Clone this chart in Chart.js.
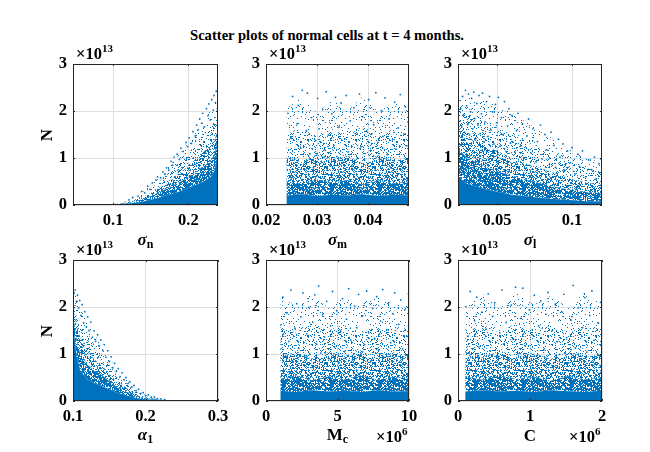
<!DOCTYPE html>
<html>
<head>
<meta charset="utf-8">
<script src="https://cdn.jsdelivr.net/npm/chart.js@4.4.1/dist/chart.umd.min.js"></script>
<style>
  body { margin: 0; width: 650px; height: 452px; position: relative; overflow: hidden; background: #fff;
         font-family: 'Liberation Serif', 'Times New Roman', serif; }
  canvas { position: absolute; }
  .lbl { position: absolute; font-weight: bold; color: #000; white-space: nowrap; line-height: 1; }
  .c { transform: translate(-50%, -50%); }
  .l { transform: translateY(-50%); }
  .ax { font-size: 17px; }
  .ax i { font-weight: bold; }
  .ax sub { font-size: 12px; font-style: normal; vertical-align: -3px; }
  .mul { font-size: 16.5px; }
  .mul sup { font-size: 11px; vertical-align: 7px; }
  .n { font-size: 17px; transform: translate(-50%, -50%) rotate(-90deg); }
</style>
</head>
<body>
<div class="lbl c" style="left:327px;top:35px;font-size:14.6px;">Scatter plots of normal cells at t = 4 months.</div>

<script>
// y axis (units of 1e13)
const yTicks = [0, 1, 2, 3];
const yLabels = ['0', '1', '2', '3'];

// density bands read off the cloud: core = solid, then dense / mid / sparse / fringe reach at each x
// --- sigma_n ---
const snTicks = [0.1, 0.2];
const snLabels = ['0.1', '0.2'];
const snEnvX   = [0.0467, 0.10, 0.11, 0.12, 0.13, 0.14, 0.15, 0.16, 0.17, 0.18, 0.19, 0.20, 0.21, 0.22, 0.23, 0.235, 0.2393];
const snCore   = [0.02, 0.02, 0.02, 0.03, 0.05, 0.075, 0.11, 0.15, 0.2, 0.25, 0.3, 0.36, 0.43, 0.5, 0.6, 0.75, 1.2];
const snDense  = [0.02, 0.02, 0.02, 0.05, 0.08, 0.13, 0.19, 0.26, 0.34, 0.42, 0.5, 0.6, 0.7, 0.82, 0.95, 1.1, 1.4];
const snMid    = [0.02, 0.02, 0.03, 0.07, 0.12, 0.17, 0.26, 0.36, 0.46, 0.58, 0.7, 0.82, 0.97, 1.13, 1.28, 1.4, 1.6];
const snSparse = [0.02, 0.02, 0.04, 0.09, 0.16, 0.23, 0.35, 0.48, 0.62, 0.78, 0.94, 1.1, 1.3, 1.52, 1.72, 1.83, 1.98];
const snFringe = [0.02, 0.02, 0.05, 0.11, 0.19, 0.28, 0.42, 0.58, 0.75, 0.93, 1.12, 1.32, 1.56, 1.81, 2.05, 2.18, 2.28];
const snPts = [[0.121,0.11],[0.126,0.16],[0.133,0.19],[0.138,0.29],[0.142,0.26],[0.146,0.4],[0.149,0.33],[0.152,0.47],
  [0.157,0.53],[0.159,0.6],[0.163,0.58],[0.166,0.7],[0.169,0.66],[0.171,0.79],[0.174,0.74],[0.177,0.93],[0.179,0.85],
  [0.181,1.02],[0.185,1.08],[0.188,0.97],[0.19,1.21],[0.193,1.14],[0.197,1.33],[0.199,1.24],[0.201,1.43],[0.204,1.31],
  [0.206,1.56],[0.209,1.47],[0.211,1.7],[0.213,1.6],[0.215,1.83],[0.218,1.74],[0.219,1.95],[0.221,1.66],[0.224,2.05],
  [0.226,1.9],[0.227,2.15],[0.229,1.81],[0.231,2.24],[0.233,2.02],[0.234,2.33],[0.236,2.18],[0.237,2.42],[0.239,2.3],
  [0.2385,2.05]];

// --- sigma_m ---
const smTicks = [0.02, 0.03, 0.04];
const smLabels = ['0.02', '0.03', '0.04'];
const smEnvX   = [0.024, 0.027, 0.030, 0.033, 0.036, 0.039, 0.042, 0.045, 0.048];
const smCore   = [0.2, 0.23, 0.19, 0.22, 0.2, 0.23, 0.19, 0.22, 0.2];
const smDense  = [0.5, 0.44, 0.55, 0.47, 0.53, 0.43, 0.52, 0.46, 0.5];
const smMid    = [1.0, 0.9, 1.08, 0.94, 1.05, 0.88, 1.06, 0.92, 1.02];
const smSparse = [1.5, 1.65, 1.42, 1.6, 1.48, 1.68, 1.44, 1.62, 1.5];
const smFringe = [2.05, 2.3, 1.95, 2.25, 2.0, 2.32, 1.98, 2.2, 2.1];
const smPts = [[0.0243,1.95],[0.0249,1.42],[0.0252,2.31],[0.0256,0.98],[0.0261,1.73],[0.0263,2.12],[0.0268,1.21],
  [0.0271,2.44],[0.0274,0.87],[0.0279,1.58],[0.0281,2.38],[0.0286,1.09],[0.0289,1.86],[0.0293,0.79],[0.0297,1.37],
  [0.0301,2.27],[0.0304,1.62],[0.0308,0.93],[0.0311,2.03],[0.0315,1.18],[0.0318,2.41],[0.0322,1.49],[0.0325,0.84],
  [0.0329,1.94],[0.0333,1.27],[0.0336,2.29],[0.0339,1.03],[0.0343,1.66],[0.0347,2.17],[0.0351,0.91],[0.0354,1.41],
  [0.0357,2.33],[0.0361,1.13],[0.0365,1.79],[0.0368,0.82],[0.0372,2.07],[0.0375,1.52],[0.0379,1.01],[0.0383,2.36],
  [0.0386,1.24],[0.0389,1.88],[0.0393,0.95],[0.0397,1.57],[0.0401,2.24],[0.0404,1.16],[0.0408,0.88],[0.0411,1.71],
  [0.0415,2.39],[0.0419,1.33],[0.0422,0.97],[0.0426,2.01],[0.0429,1.46],[0.0433,2.28],[0.0437,1.07],[0.0441,1.83],
  [0.0444,0.8],[0.0448,1.39],[0.0452,2.19],[0.0455,1.19],[0.0459,1.64],[0.0463,2.35],[0.0466,0.92],[0.047,1.51],
  [0.0473,2.09],[0.0476,1.26],[0.0478,1.77]];

// --- sigma_l ---
const slTicks = [0.05, 0.1];
const slLabels = ['0.05', '0.1'];
const slEnvX   = [0.024, 0.03, 0.04, 0.05, 0.06, 0.07, 0.08, 0.09, 0.10, 0.11, 0.12];
const slCore   = [0.6, 0.45, 0.35, 0.28, 0.22, 0.18, 0.15, 0.12, 0.1, 0.08, 0.07];
const slDense  = [1.2, 1.0, 0.85, 0.72, 0.62, 0.53, 0.45, 0.38, 0.32, 0.27, 0.25];
const slMid    = [1.6, 1.45, 1.3, 1.15, 1.0, 0.88, 0.77, 0.66, 0.55, 0.47, 0.43];
const slSparse = [2.0, 1.95, 1.8, 1.65, 1.5, 1.35, 1.2, 1.05, 0.9, 0.78, 0.7];
const slFringe = [2.25, 2.3, 2.25, 2.15, 1.95, 1.75, 1.55, 1.35, 1.15, 1.0, 0.9];
const slPts = [[0.0245,2.22],[0.0252,1.78],[0.0258,2.05],[0.0265,1.66],[0.0271,2.31],[0.0278,1.92],[0.0284,1.55],
  [0.029,2.44],[0.0297,2.11],[0.0304,1.71],[0.031,2.36],[0.0317,1.49],[0.0324,1.98],[0.0331,2.27],[0.0338,1.62],
  [0.0345,2.4],[0.0352,1.84],[0.0359,1.41],[0.0366,2.16],[0.0373,1.7],[0.038,2.33],[0.0388,1.52],[0.0396,1.94],
  [0.0404,2.38],[0.0412,1.35],[0.042,1.77],[0.043,2.2],[0.044,1.46],[0.045,2.31],[0.046,1.6],[0.047,1.98],[0.048,1.3],
  [0.049,2.14],[0.05,1.75],[0.051,2.29],[0.052,1.25],[0.053,1.86],[0.054,1.5],[0.055,2.2],[0.056,1.14],[0.057,1.68],
  [0.058,2.05],[0.059,1.32],[0.06,1.9],[0.062,1.12],[0.063,1.58],[0.064,1.95],[0.066,1.26],[0.067,1.72],[0.068,1.0],
  [0.07,1.47],[0.071,1.83],[0.073,1.1],[0.074,1.62],[0.076,0.92],[0.077,1.35],[0.079,1.7],[0.08,0.98],[0.082,1.5],
  [0.083,1.18],[0.085,0.86],[0.086,1.55],[0.088,1.27],[0.089,0.8],[0.091,1.4],[0.092,1.02],[0.094,1.3],[0.095,0.74],
  [0.097,1.15],[0.099,0.9],[0.1,1.22],[0.102,0.66],[0.104,1.08],[0.105,0.82],[0.107,1.15],[0.109,0.6],[0.111,0.96],
  [0.113,0.75],[0.115,1.02],[0.116,0.55],[0.118,0.88],[0.1195,0.97]];

// --- alpha_1 ---
const a1Ticks = [0.1, 0.2, 0.3];
const a1Labels = ['0.1', '0.2', '0.3'];
const a1EnvX   = [0.10, 0.105, 0.11, 0.12, 0.13, 0.14, 0.15, 0.16, 0.17, 0.18, 0.19, 0.20, 0.21, 0.22, 0.23, 0.24, 0.30];
const a1Core   = [1.6, 0.95, 0.65, 0.46, 0.37, 0.32, 0.25, 0.18, 0.14, 0.09, 0.055, 0.035, 0.025, 0.02, 0.02, 0.02, 0.02];
const a1Dense  = [1.85, 1.3, 1.0, 0.78, 0.63, 0.55, 0.42, 0.3, 0.23, 0.15, 0.09, 0.06, 0.04, 0.025, 0.02, 0.02, 0.02];
const a1Mid    = [2.0, 1.6, 1.35, 1.07, 0.87, 0.75, 0.58, 0.42, 0.32, 0.21, 0.13, 0.08, 0.05, 0.03, 0.02, 0.02, 0.02];
const a1Sparse = [2.2, 1.8, 1.7, 1.45, 1.17, 1.0, 0.78, 0.56, 0.43, 0.28, 0.17, 0.11, 0.065, 0.035, 0.02, 0.02, 0.02];
const a1Fringe = [2.35, 2.2, 2.05, 1.72, 1.4, 1.2, 0.93, 0.67, 0.51, 0.34, 0.2, 0.13, 0.075, 0.04, 0.025, 0.02, 0.02];
const a1Pts = [[0.1004,2.41],[0.1016,2.3],[0.1031,2.36],[0.1047,2.12],[0.1062,2.25],[0.108,1.98],[0.1093,2.14],
  [0.111,1.82],[0.1127,2.05],[0.1148,1.66],[0.1162,1.9],[0.1185,1.58],[0.1203,1.79],[0.1222,1.5],[0.1246,1.68],
  [0.1268,1.36],[0.1291,1.49],[0.1312,1.27],[0.1339,1.41],[0.136,1.17],[0.1384,1.3],[0.1409,1.08],[0.1431,1.2],
  [0.1455,0.93],[0.1478,1.07],[0.1502,0.84],[0.1527,0.94],[0.1549,0.71],[0.1573,0.8],[0.1598,0.63],[0.1624,0.69],
  [0.1651,0.52],[0.1677,0.6],[0.1703,0.45],[0.173,0.5],[0.1758,0.37],[0.1785,0.41],[0.1812,0.3],[0.1841,0.33],
  [0.187,0.22],[0.1903,0.25],[0.1935,0.16],[0.1968,0.18],[0.2004,0.12],[0.204,0.13],[0.2079,0.08],[0.2121,0.085],
  [0.2166,0.05],[0.2213,0.045],[0.2265,0.03]];

// --- M_c (units of 1e6) ---
const mcTicks = [0, 5, 10];
const mcLabels = ['0', '5', '10'];
const mcEnvX   = [1.0, 2.1, 3.2, 4.4, 5.5, 6.6, 7.8, 8.9, 10.0];
const mcCore   = [0.22, 0.19, 0.23, 0.2, 0.22, 0.19, 0.23, 0.2, 0.21];
const mcDense  = [0.47, 0.54, 0.44, 0.52, 0.46, 0.55, 0.45, 0.51, 0.48];
const mcMid    = [0.93, 1.06, 0.9, 1.04, 0.95, 1.08, 0.91, 1.03, 0.97];
const mcSparse = [1.62, 1.45, 1.66, 1.5, 1.64, 1.43, 1.6, 1.47, 1.58];
const mcFringe = [2.25, 2.0, 2.3, 1.97, 2.22, 2.05, 2.28, 1.99, 2.15];
const mcPts = [[1.05,1.62],[1.18,2.21],[1.31,0.94],[1.47,1.88],[1.6,1.27],[1.74,2.36],[1.86,0.83],[2.02,1.55],[2.15,2.07],
  [2.29,1.12],[2.44,1.79],[2.58,2.3],[2.71,0.97],[2.85,1.43],[2.99,1.99],[3.14,0.86],[3.27,1.68],[3.41,2.26],[3.55,1.21],
  [3.68,2.45],[3.83,1.02],[3.96,1.84],[4.1,1.36],[4.24,2.12],[4.38,0.9],[4.52,1.6],[4.65,2.33],[4.8,1.15],[4.94,1.92],
  [5.08,0.81],[5.22,1.48],[5.35,2.18],[5.5,1.05],[5.63,1.74],[5.78,2.39],[5.92,1.3],[6.05,0.88],[6.2,2.02],[6.34,1.56],
  [6.47,2.27],[6.62,0.99],[6.76,1.81],[6.9,1.2],[7.04,2.34],[7.18,1.45],[7.32,0.85],[7.46,1.97],[7.6,1.33],[7.74,2.22],
  [7.88,1.08],[8.02,1.7],[8.16,2.37],[8.3,0.93],[8.44,1.52],[8.58,2.09],[8.72,1.24],[8.86,1.86],[9.0,2.3],[9.14,0.87],
  [9.28,1.63],[9.42,2.15],[9.56,1.11],[9.7,1.94],[9.84,1.38],[9.96,2.28]];

// --- C (units of 1e6) ---
const cTicks = [0, 1, 2];
const cLabels = ['0', '1', '2'];
const cEnvX   = [0.1, 0.34, 0.58, 0.81, 1.05, 1.29, 1.53, 1.76, 2.0];
const cCore   = [0.2, 0.23, 0.2, 0.22, 0.19, 0.23, 0.21, 0.19, 0.22];
const cDense  = [0.52, 0.45, 0.54, 0.47, 0.51, 0.43, 0.53, 0.46, 0.5];
const cMid    = [1.04, 0.92, 1.07, 0.95, 1.02, 0.89, 1.05, 0.93, 1.0];
const cSparse = [1.46, 1.63, 1.44, 1.67, 1.5, 1.6, 1.42, 1.65, 1.52];
const cFringe = [2.02, 2.28, 1.96, 2.3, 2.05, 2.24, 1.98, 2.31, 2.08];
const cPts = [[0.11,2.01],[0.14,1.38],[0.17,2.33],[0.2,0.92],[0.23,1.71],[0.26,2.21],[0.29,1.15],[0.33,1.89],[0.36,0.84],
  [0.39,1.53],[0.42,2.28],[0.45,1.06],[0.48,1.8],[0.51,2.09],[0.55,0.96],[0.58,1.45],[0.61,2.36],[0.64,1.22],[0.67,1.67],
  [0.71,0.88],[0.74,2.04],[0.77,1.31],[0.8,2.42],[0.83,1.01],[0.87,1.76],[0.9,2.4],[0.93,1.18],[0.96,0.83],[0.99,1.94],
  [1.03,1.41],[1.06,2.25],[1.09,0.95],[1.12,1.6],[1.15,2.13],[1.19,1.09],[1.22,1.85],[1.25,2.31],[1.28,0.86],[1.31,1.5],
  [1.35,2.06],[1.38,1.26],[1.41,0.99],[1.44,1.9],[1.47,2.27],[1.51,1.35],[1.54,0.81],[1.57,1.72],[1.6,2.46],[1.63,1.13],
  [1.67,1.98],[1.7,0.9],[1.73,1.56],[1.76,2.2],[1.79,1.04],[1.83,1.82],[1.86,2.34],[1.89,1.29],[1.92,0.94],[1.95,1.66],
  [1.98,2.1]];

const BLUE = '#0072BD';
const FONT = { family: "'Liberation Serif', 'Times New Roman', serif", size: 16.5, weight: 'bold' };
const PADL = 50, PADR = 20, PADT = 30, PADB = 40;

// plot boxes in page pixels
const cols = [[73, 218], [266, 409], [458, 602]];
const rows = [[64, 205], [260, 401]];

const panels = [
  { row: 0, col: 0, min: 0.0467, max: 0.2393, ticks: snTicks, labels: snLabels, envX: snEnvX,
    bands: [snCore, snDense, snMid, snSparse, snFringe], pts: snPts, title: '<i>σ</i><sub>n</sub>', ylabel: true },
  { row: 0, col: 1, min: 0.02, max: 0.048, ticks: smTicks, labels: smLabels, envX: smEnvX,
    bands: [smCore, smDense, smMid, smSparse, smFringe], pts: smPts, title: '<i>σ</i><sub>m</sub>' },
  { row: 0, col: 2, min: 0.024, max: 0.12, ticks: slTicks, labels: slLabels, envX: slEnvX,
    bands: [slCore, slDense, slMid, slSparse, slFringe], pts: slPts, title: '<i>σ</i><sub>l</sub>' },
  { row: 1, col: 0, min: 0.1, max: 0.3, ticks: a1Ticks, labels: a1Labels, envX: a1EnvX,
    bands: [a1Core, a1Dense, a1Mid, a1Sparse, a1Fringe], pts: a1Pts, title: '<i>α</i><sub>1</sub>', ylabel: true },
  { row: 1, col: 1, min: 0, max: 10, ticks: mcTicks, labels: mcLabels, envX: mcEnvX,
    bands: [mcCore, mcDense, mcMid, mcSparse, mcFringe], pts: mcPts, title: 'M<sub>c</sub>', exp: '6' },
  { row: 1, col: 2, min: 0, max: 2, ticks: cTicks, labels: cLabels, envX: cEnvX,
    bands: [cCore, cDense, cMid, cSparse, cFringe], pts: cPts, title: 'C', exp: '6' }
];

// dot texture for the bands, so a band reads as a cloud of markers (fixed pixel hash, not data)
function stipple(coverage, seed) {
  const size = 48;
  const tile = document.createElement('canvas');
  tile.width = tile.height = size;
  const g = tile.getContext('2d');
  const img = g.createImageData(size, size);
  for (let y = 0; y < size; y++) {
    for (let x = 0; x < size; x++) {
      let n = x * 1973 + y * 9277 + seed * 26699;
      n = (n << 13) ^ n;
      const v = ((Math.imul(n, (Math.imul(Math.imul(n, n), 15731) + 789221) | 0) + 1376312589) & 0x7fffffff) / 2147483648;
      if (v < coverage) {
        const k = (y * size + x) * 4;
        img.data[k] = 0; img.data[k + 1] = 114; img.data[k + 2] = 189; img.data[k + 3] = 255;
      }
    }
  }
  g.putImageData(img, 0, 0);
  return g.createPattern(tile, 'repeat');
}
const bandFills = [BLUE, stipple(0.72, 1), stipple(0.42, 2), stipple(0.18, 3), stipple(0.06, 4)];

// box around the axes plus small inward tick marks (MATLAB style)
const boxPlugin = {
  id: 'box',
  afterDraw(chart) {
    const a = chart.chartArea, ctx = chart.ctx;
    ctx.save();
    ctx.strokeStyle = '#262626';
    ctx.lineWidth = 1;
    ctx.strokeRect(a.left + 0.5, a.top + 0.5, a.right - a.left - 1, a.bottom - a.top - 1);
    ctx.beginPath();
    chart.scales.x.ticks.forEach(t => {
      const px = Math.round(chart.scales.x.getPixelForValue(t.value)) + 0.5;
      ctx.moveTo(px, a.bottom); ctx.lineTo(px, a.bottom - 2);
      ctx.moveTo(px, a.top); ctx.lineTo(px, a.top + 2);
    });
    chart.scales.y.ticks.forEach(t => {
      const py = Math.round(chart.scales.y.getPixelForValue(t.value)) + 0.5;
      ctx.moveTo(a.left, py); ctx.lineTo(a.left + 2, py);
      ctx.moveTo(a.right, py); ctx.lineTo(a.right - 2, py);
    });
    ctx.stroke();
    ctx.restore();
  }
};

function addLabel(html, cls, left, top) {
  const d = document.createElement('div');
  d.className = 'lbl ' + cls;
  d.style.left = left + 'px';
  d.style.top = top + 'px';
  d.innerHTML = html;
  document.body.appendChild(d);
}

panels.forEach(p => {
  const [L, R] = cols[p.col];
  const [T, B] = rows[p.row];
  const canvas = document.createElement('canvas');
  canvas.width = R - L + PADL + PADR;
  canvas.height = B - T + PADT + PADB;
  canvas.style.left = (L - PADL) + 'px';
  canvas.style.top = (T - PADT) + 'px';
  document.body.appendChild(canvas);

  // each band fills down to the band below it
  const bandSets = p.bands.map((ys, i) => ({
    data: p.envX.map((x, j) => ({ x: x, y: ys[j] })),
    showLine: true,
    fill: i === 0 ? 'origin' : '-1',
    backgroundColor: bandFills[i],
    borderColor: 'transparent',
    borderWidth: 0,
    pointRadius: 0,
    tension: 0,
    order: i + 1
  }));

  new Chart(canvas, {
    type: 'scatter',
    data: {
      datasets: [
        { data: p.pts.map(q => ({ x: q[0], y: q[1] })), backgroundColor: BLUE, borderWidth: 0, pointRadius: 0.9, order: 0 },
        ...bandSets
      ]
    },
    options: {
      responsive: false,
      animation: false,
      events: [],
      layout: { padding: { top: PADT, right: PADR, left: 0, bottom: 0 }, autoPadding: false },
      plugins: { legend: { display: false }, tooltip: { enabled: false } },
      scales: {
        x: {
          type: 'linear', min: p.min, max: p.max,
          afterBuildTicks: s => { s.ticks = p.ticks.map(v => ({ value: v })); },
          afterFit: s => { s.height = PADB; },
          ticks: { callback: (v, i) => p.labels[i], font: FONT, color: '#000', padding: 6, maxRotation: 0, autoSkip: false },
          grid: { color: '#dedede', drawTicks: false },
          border: { display: false }
        },
        y: {
          min: 0, max: 3,
          afterBuildTicks: s => { s.ticks = yTicks.map(v => ({ value: v })); },
          afterFit: s => { s.width = PADL; },
          ticks: { callback: (v, i) => yLabels[i], font: FONT, color: '#000', padding: 6 },
          grid: { color: '#dedede', drawTicks: false },
          border: { display: false }
        }
      }
    },
    plugins: [boxPlugin]
  });

  const cx = (L + R) / 2;
  addLabel(p.title, 'ax c', cx, p.row === 0 ? 240 : 435);
  addLabel('×10<sup>13</sup>', 'mul l', L + 3, T - 11);
  if (p.exp) addLabel('×10<sup>' + p.exp + '</sup>', 'mul l', R - 33, 436);
  if (p.ylabel) addLabel('N', 'n', 46, (T + B) / 2);
});
</script>
</body>
</html>
